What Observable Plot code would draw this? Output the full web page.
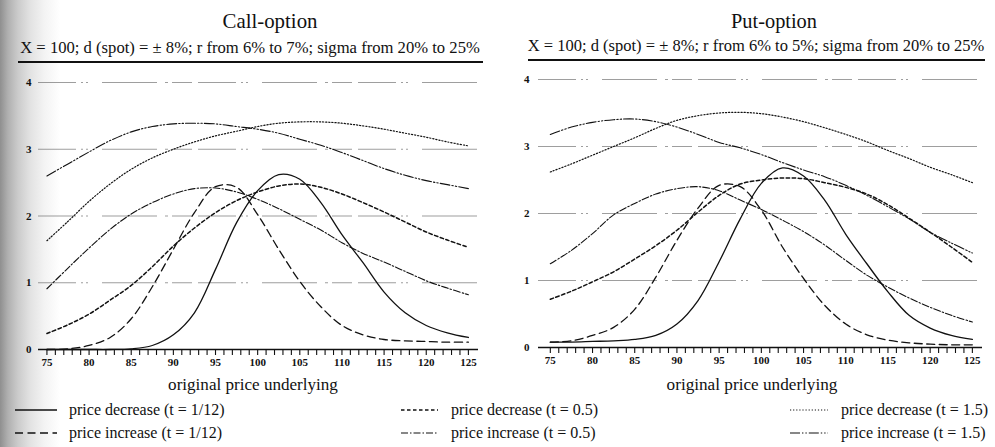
<!DOCTYPE html>
<html>
<head>
<meta charset="utf-8">
<script src="https://cdn.jsdelivr.net/npm/d3@7"></script>
<script src="https://cdn.jsdelivr.net/npm/@observablehq/plot@0.6"></script>
<style>
  html, body { margin: 0; padding: 0; background: #fff; }
  body { width: 995px; height: 447px; overflow: hidden; position: relative;
         font-family: "Liberation Serif", "Times New Roman", serif; color: #111; }
  #stipple { position: absolute; left: 0; top: 0; width: 62px; height: 447px;
    background: linear-gradient(to right, #8f8f8f 0px, #b0b0b0 8px, #cbcbcb 18px, #e2e2e2 30px, #f3f3f3 44px, rgba(255,255,255,0) 60px); }
  .t { position: absolute; white-space: nowrap; transform: translate(-50%, -50%); line-height: 1; }
  .rule { position: absolute; height: 1.6px; background: #111; }
  .plot { position: absolute; }
  .leg { position: absolute; white-space: nowrap; font-size: 16px; line-height: 1; transform: translateY(-50%); }
  .legsw { position: absolute; }
</style>
</head>
<body>
<div id="stipple"></div>
<div id="root"></div>
<script>
// ---------- data ----------
const prices = [75, 77.5, 80, 82.5, 85, 87.5, 90, 92.5, 95, 97.5, 100, 102.5, 105, 107.5, 110, 112.5, 115, 117.5, 120, 122.5, 125];
const xTicks = [75,76,77,78,79,80,81,82,83,84,85,86,87,88,89,90,91,92,93,94,95,96,97,98,99,100,101,102,103,104,105,106,107,108,109,110,111,112,113,114,115,116,117,118,119,120,121,122,123,124,125];
const yTicks = [0, 1, 2, 3, 4];
const gridValues = [1, 2, 3, 4];

// Call-option
const callDec112 = [0.0, 0.0, 0.0, 0.0, 0.01, 0.06, 0.22, 0.55, 1.2, 1.9, 2.38, 2.62, 2.55, 2.2, 1.72, 1.3, 0.86, 0.55, 0.36, 0.25, 0.18];
const callInc112 = [0.0, 0.01, 0.06, 0.18, 0.46, 0.94, 1.5, 2.05, 2.44, 2.43, 2.02, 1.5, 1.02, 0.64, 0.36, 0.22, 0.15, 0.13, 0.12, 0.11, 0.11];
const callDec05  = [0.24, 0.37, 0.53, 0.74, 0.96, 1.24, 1.55, 1.82, 2.05, 2.23, 2.36, 2.45, 2.48, 2.43, 2.33, 2.2, 2.06, 1.91, 1.76, 1.64, 1.53];
const callInc05  = [0.91, 1.22, 1.52, 1.8, 2.03, 2.2, 2.33, 2.41, 2.42, 2.36, 2.25, 2.11, 1.95, 1.79, 1.6, 1.44, 1.31, 1.17, 1.03, 0.92, 0.82];
const callDec15  = [1.63, 1.92, 2.22, 2.48, 2.7, 2.87, 3.0, 3.11, 3.2, 3.27, 3.34, 3.39, 3.41, 3.41, 3.39, 3.35, 3.3, 3.24, 3.18, 3.11, 3.05];
const callInc15  = [2.6, 2.78, 2.96, 3.13, 3.26, 3.34, 3.38, 3.39, 3.38, 3.34, 3.3, 3.24, 3.15, 3.06, 2.95, 2.83, 2.71, 2.61, 2.53, 2.47, 2.41];

// Put-option
const putDec112 = [0.08, 0.08, 0.09, 0.1, 0.12, 0.18, 0.35, 0.7, 1.28, 1.92, 2.45, 2.68, 2.56, 2.2, 1.69, 1.25, 0.83, 0.48, 0.29, 0.18, 0.12];
const putInc112 = [0.08, 0.1, 0.18, 0.3, 0.57, 1.05, 1.6, 2.08, 2.42, 2.4, 2.05, 1.5, 1.03, 0.63, 0.35, 0.19, 0.11, 0.07, 0.05, 0.04, 0.04];
const putDec05  = [0.72, 0.84, 0.98, 1.13, 1.32, 1.52, 1.75, 2.02, 2.27, 2.44, 2.5, 2.53, 2.52, 2.46, 2.39, 2.29, 2.13, 1.93, 1.72, 1.5, 1.27];
const putInc05  = [1.25, 1.45, 1.7, 1.98, 2.15, 2.29, 2.37, 2.4, 2.34, 2.2, 2.06, 1.9, 1.73, 1.53, 1.3, 1.08, 0.9, 0.74, 0.6, 0.48, 0.38];
const putDec15  = [2.62, 2.74, 2.87, 3.0, 3.13, 3.27, 3.39, 3.46, 3.5, 3.51, 3.49, 3.44, 3.37, 3.28, 3.18, 3.07, 2.94, 2.82, 2.69, 2.58, 2.46];
const putInc15  = [3.18, 3.29, 3.36, 3.4, 3.41, 3.37, 3.29, 3.18, 3.06, 2.98, 2.88, 2.76, 2.65, 2.55, 2.42, 2.27, 2.1, 1.92, 1.72, 1.56, 1.41];

const seriesKeys = ["dec112", "inc112", "dec05", "inc05", "dec15", "inc15"];
const seriesLabels = ["price decrease (t = 1/12)", "price increase (t = 1/12)", "price decrease (t = 0.5)", "price increase (t = 0.5)", "price decrease (t = 1.5)", "price increase (t = 1.5)"];
const callValues = [callDec112, callInc112, callDec05, callInc05, callDec15, callInc15];
const putValues  = [putDec112, putInc112, putDec05, putInc05, putDec15, putInc15];

const titles = ["Call-option", "Put-option"];
const subtitles = ["X = 100; d (spot) = \u00b1 8%; r from 6% to 7%; sigma from 20% to 25%",
                   "X = 100; d (spot) = \u00b1 8%; r from 6% to 5%; sigma from 20% to 25%"];
const xLabel = "original price underlying";

// ---------- styles ----------
const lineStyle = {
  dec112: {dash: null, width: 1.3},
  inc112: {dash: "8,4.5", width: 1.3},
  dec05:  {dash: "3.5,2.5", width: 1.5},
  inc05:  {dash: "7,2,1.5,2", width: 1.1},
  dec15:  {dash: "1.2,1.9", width: 1.2},
  inc15:  {dash: "10,2,1.4,2,1.4,2", width: 1.1}
};

const root = document.getElementById("root");

function panel(values, cfg) {
  const marks = [
    Plot.ruleY(gridValues, {stroke: "#666", strokeWidth: 0.8, strokeOpacity: 0.8,
      strokeDasharray: "38,5,2,3,2,14,55,8,3,4,20,6"}),
    Plot.ruleY([0], {stroke: "#111", strokeWidth: 1.6}),
    Plot.axisX({ticks: xTicks, tickSize: 6, tickPadding: 3, strokeWidth: 1.1,
      tickFormat: d => (d % 5 === 0 ? String(d) : ""), label: null}),
    Plot.axisY({ticks: yTicks, tickSize: 0, tickPadding: cfg.yPad, tickFormat: d => String(d), label: null})
  ];
  seriesKeys.forEach((k, i) => {
    const rows = prices.map((p, j) => ({price: p, value: values[i][j]}));
    marks.push(Plot.line(rows, {x: "price", y: "value", curve: "catmull-rom",
      stroke: "#111", strokeWidth: lineStyle[k].width, strokeDasharray: lineStyle[k].dash}));
  });
  const svg = Plot.plot({
    width: cfg.width, height: cfg.height,
    marginLeft: cfg.ml, marginRight: cfg.mr, marginTop: cfg.mt, marginBottom: cfg.mb,
    x: {domain: cfg.xDomain, axis: null},
    y: {domain: [0, 4], axis: null},
    style: {fontFamily: "'Liberation Serif', serif", fontSize: "11px", fontWeight: "bold", background: "transparent", overflow: "visible"},
    marks
  });
  const wrap = document.createElement("div");
  wrap.className = "plot";
  wrap.style.left = cfg.left + "px";
  wrap.style.top = cfg.top + "px";
  wrap.appendChild(svg);
  root.appendChild(wrap);
}

panel(callValues, {left: 0, top: 70, width: 490, height: 324, ml: 38, mr: 12, mt: 12, mb: 45, xDomain: [74, 126.2], yPad: 7});
panel(putValues,  {left: 495, top: 67, width: 500, height: 325, ml: 43, mr: 13, mt: 12, mb: 45, xDomain: [73.6, 126.2], yPad: 9});

// ---------- texts ----------
function addText(str, cx, cy, size, targetWidth) {
  const el = document.createElement("div");
  el.className = "t";
  el.textContent = str;
  el.style.left = cx + "px";
  el.style.top = cy + "px";
  el.style.fontSize = size + "px";
  root.appendChild(el);
  if (targetWidth) {
    const w = el.getBoundingClientRect().width;
    if (w > 0) el.style.fontSize = (size * targetWidth / w) + "px";
  }
  return el;
}
function addRule(x1, x2, y) {
  const el = document.createElement("div");
  el.className = "rule";
  el.style.left = x1 + "px";
  el.style.width = (x2 - x1) + "px";
  el.style.top = y + "px";
  root.appendChild(el);
}

addText(titles[0], 270, 21, 20, 95);
addText(titles[1], 774, 21, 20, 86);
addText(subtitles[0], 250, 48, 16, 460);
addText(subtitles[1], 756, 46, 16, 457);
addRule(18, 483, 61);
addRule(528, 985, 59);
addText(xLabel, 253, 385, 17, 170);
addText(xLabel, 752, 385, 17, 171);

// ---------- legend ----------
const legendCols = [[0, 1], [2, 3], [4, 5]];
const legendLineX = [[15, 57], [401, 438], [790, 828]];
const legendTextX = [69, 451, 841];
const legendRowY = [410, 433];
legendCols.forEach((col, c) => {
  col.forEach((si, r) => {
    const k = seriesKeys[si];
    const y = legendRowY[r];
    const [x1, x2] = legendLineX[c];
    const svg = d3.create("svg").attr("class", "legsw")
      .attr("width", x2 - x1).attr("height", 6)
      .style("left", x1 + "px").style("top", (y - 3) + "px");
    svg.append("line").attr("x1", 0).attr("x2", x2 - x1).attr("y1", 3).attr("y2", 3)
      .attr("stroke", "#111").attr("stroke-width", lineStyle[k].width)
      .attr("stroke-dasharray", lineStyle[k].dash);
    root.appendChild(svg.node());
    const t = document.createElement("div");
    t.className = "leg";
    t.textContent = seriesLabels[si];
    t.style.left = legendTextX[c] + "px";
    t.style.top = y + "px";
    root.appendChild(t);
  });
});
</script>
</body>
</html>
